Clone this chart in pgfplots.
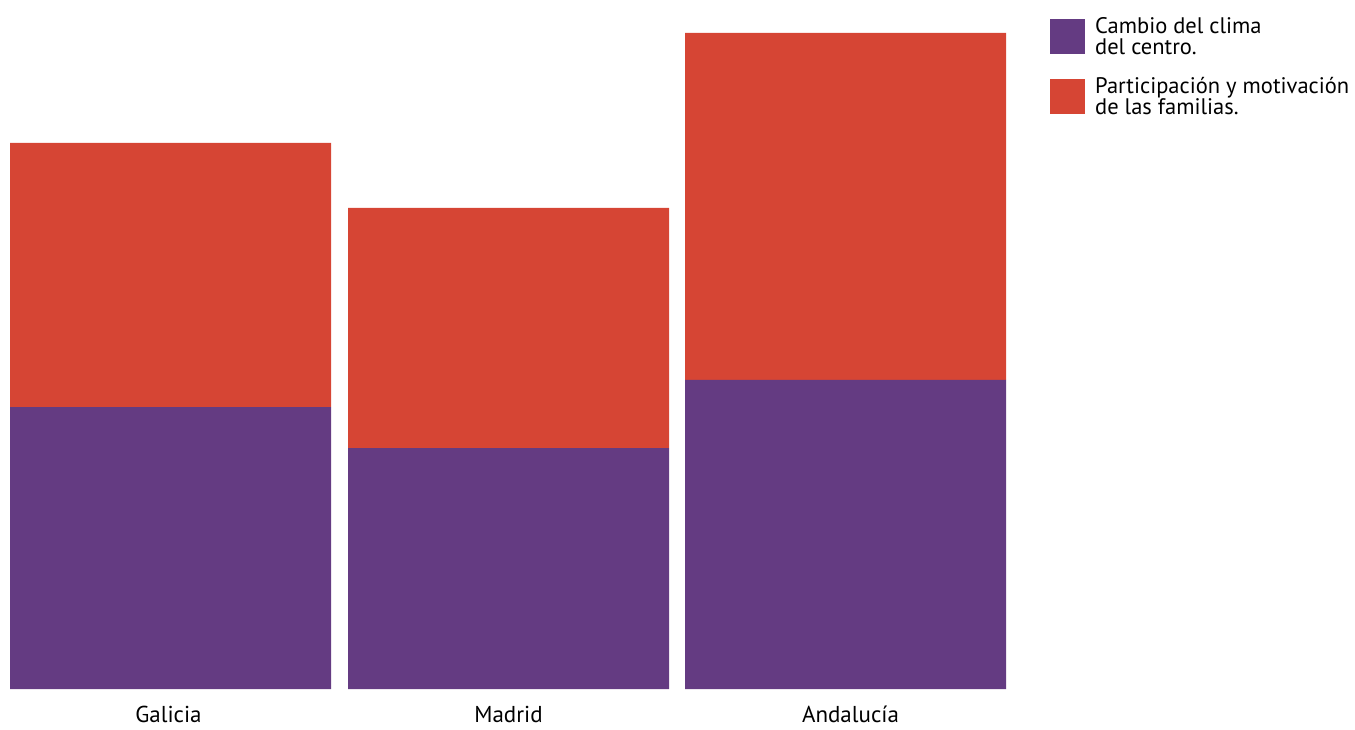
\documentclass[border=0pt]{standalone}
\usepackage{fontspec}
\setmainfont{PT Sans}
\usepackage{pgfplots}
\pgfplotsset{compat=1.18}
\definecolor{cpurple}{RGB}{100,59,130}
\definecolor{cred}{RGB}{214,69,52}
\begin{document}
\begin{tikzpicture}
\begin{axis}[
  scale only axis, width=1355bp, height=729bp,
  xmin=0, xmax=1355, ymin=-40, ymax=689,
  hide axis, clip=false,
  ybar stacked, bar width=321,
  legend style={at={(axis cs:1050,674)}, anchor=north west, draw=none, fill=none,
    font=\fontsize{22.5bp}{21.5bp}\selectfont, row sep=17bp, inner sep=0pt,
    cells={align=left, anchor=west}},
  legend image code/.code={\fill[#1] (0bp,-17.5bp) rectangle (35bp,17.5bp); \path (43bp,0bp);},
]
\path (rel axis cs:0,0) rectangle (rel axis cs:1,1);
\addplot[fill=cpurple, draw=none] coordinates {(170.5,282) (508.5,241) (845.5,309)};
\addlegendentry{Cambio del clima\\del centro.}
\addplot[fill=cred, draw=none] coordinates {(170.5,264) (508.5,240) (845.5,347)};
\addlegendentry{Participación y motivación\\de las familias.}
\node[inner sep=0pt, anchor=base, font=\fontsize{23bp}{26bp}\selectfont] at (axis cs:168.5,-33) {Galicia};
\node[inner sep=0pt, anchor=base, font=\fontsize{23bp}{26bp}\selectfont] at (axis cs:508.5,-33) {Madrid};
\node[inner sep=0pt, anchor=base, font=\fontsize{23bp}{26bp}\selectfont] at (axis cs:850.5,-33) {Andalucía};
\end{axis}
\end{tikzpicture}
\end{document}
